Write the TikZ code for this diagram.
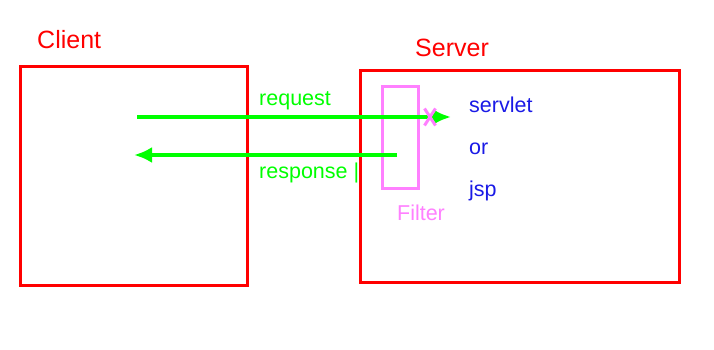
\documentclass[tikz,border=0pt]{standalone}
\usepackage{fontspec}
\setmainfont{Liberation Sans}
\usepackage{xcolor}
\usepackage{tikz}
\usetikzlibrary{arrows.meta,positioning,shapes.misc}
\definecolor{boxred}{HTML}{FF0000}
\definecolor{msggreen}{HTML}{00FF00}
\definecolor{filterpink}{HTML}{FF80FF}
\definecolor{pageblue}{HTML}{1A1AE6}
\tikzset{
  hostbox/.style={draw=boxred,line width=3pt},
  hostlabel/.style={text=boxred,font=\fontsize{25}{30}\selectfont,inner sep=0pt,anchor=west},
  msglabel/.style={text=msggreen,font=\fontsize{21.5}{26}\selectfont,inner sep=0pt,anchor=west},
  msgarrow/.style={draw=msggreen,line width=4pt,-{Latex[length=18pt,width=16pt]}},
  pagelabel/.style={text=pageblue,font=\fontsize{21.5}{26}\selectfont,inner sep=0pt,anchor=west}
}
\begin{document}
\begin{tikzpicture}[x=1pt,y=-1pt]
\useasboundingbox (0,0) rectangle (714,350);
% hosts
\node[hostbox,minimum width=227pt,minimum height=218pt,inner sep=0pt] (client) at (133.5,176) {};
\node[hostbox,minimum width=319pt,minimum height=211pt,inner sep=0pt] (server) at (519.5,176.5) {};
\node[hostlabel] (clientlbl) at (37,40) {Client};
\node[hostlabel] (serverlbl) at (415,48) {Server};
% filter
\node[draw=filterpink,line width=3pt,minimum width=36pt,minimum height=101pt,inner sep=0pt] (filter) at (400,137.5) {};
\node[text=filterpink,font=\fontsize{21.5}{26}\selectfont,inner sep=0pt] (filterlbl) at (421,213) {Filter};
% messages
\coordinate (reqfrom) at (137,117);
\coordinate (reqto) at (451,117);
\coordinate (resfrom) at (397,155);
\coordinate (resto) at (134,155);
\draw[msgarrow] (reqfrom) -- (reqto);
\draw[msgarrow] (resfrom) -- (resto);
\node[msglabel] (reqlbl) at (259,101) {request};
\node[msglabel] (reslbl) at (259,173) {response |};
\node[draw=filterpink,cross out,line width=3pt,minimum width=8pt,minimum height=14pt,inner sep=0pt] (blocked) at (430,117) {};
% target pages
\node[pagelabel] (servlet) at (469,105) {servlet};
\node[pagelabel] (or) at (469,149) {or};
\node[pagelabel] (jsp) at (469,191) {jsp};
\end{tikzpicture}
\end{document}
